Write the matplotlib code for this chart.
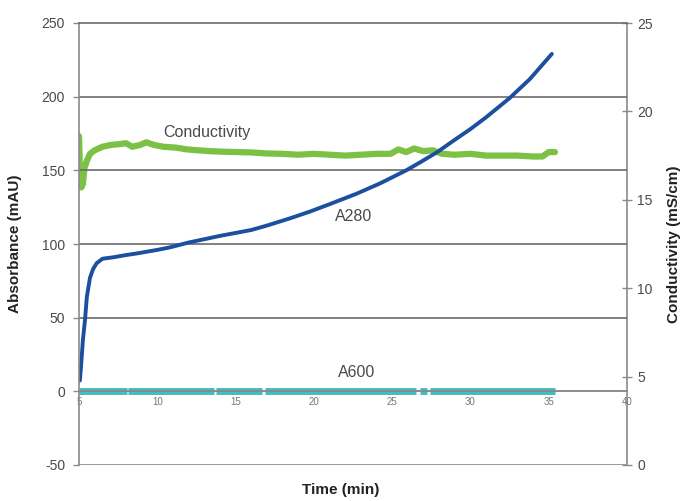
import numpy as np
import matplotlib
matplotlib.use("Agg")
import matplotlib.pyplot as plt

plt.rcParams["font.family"] = ["Liberation Sans Narrow", "Liberation Sans", "DejaVu Sans"]

# A280 absorbance (mAU) vs time (min)
a280_time = [5.0, 5.06, 5.15, 5.25, 5.38, 5.5, 5.7, 5.9, 6.13, 6.5, 7.2, 8.0, 8.7,
             10.0, 10.8, 12.0, 14.0, 16.0, 17.0, 18.5, 19.75, 21.0, 22.7, 24.2,
             25.9, 26.8, 27.9, 28.9, 30.0, 31.0, 32.5, 33.8, 35.2]
a280_value = [7, 7.5, 20, 35, 48, 64, 77, 83, 87, 90, 91, 92.5, 93.6,
              96, 97.7, 101, 105.5, 109.5, 112.5, 117.5, 122, 127, 134, 141,
              150, 155.5, 162.5, 170, 178, 186, 199, 212, 229]

# A600 absorbance (mAU), flat with small gaps in the trace
a600_time = [5.0, 8.05, np.nan, 8.15, 13.65, np.nan, 13.75, 16.7, np.nan, 16.85,
             26.5, np.nan, 26.75, 27.2, np.nan, 27.4, 35.4]
a600_value = [0, 0, np.nan, 0, 0, np.nan, 0, 0, np.nan, 0,
              0, np.nan, 0, 0, np.nan, 0, 0]

# Conductivity (mS/cm)
cond_time = [5.0, 5.05, 5.15, 5.25, 5.35, 5.5, 5.7, 6.0, 6.5, 7.0, 7.6, 8.0, 8.4,
             8.9, 9.3, 9.8, 10.4, 11.2, 11.9, 12.6, 13.4, 14.2, 15.1, 16.0, 17.0,
             18.0, 19.0, 20.0, 21.0, 22.0, 23.0, 24.0, 24.9, 25.4, 25.9, 26.4,
             27.0, 27.6, 28.2, 29.0, 30.0, 31.0, 32.0, 33.0, 34.0, 34.6, 35.0, 35.4]
cond_value = [18.6, 17.0, 15.7, 15.9, 16.8, 17.2, 17.6, 17.8, 18.0, 18.1, 18.15,
              18.2, 18.0, 18.1, 18.25, 18.1, 18.0, 17.95, 17.85, 17.8, 17.75, 17.72,
              17.7, 17.68, 17.62, 17.6, 17.55, 17.6, 17.55, 17.5, 17.55, 17.6, 17.6,
              17.85, 17.7, 17.9, 17.75, 17.8, 17.6, 17.55, 17.6, 17.5, 17.5, 17.5,
              17.45, 17.45, 17.7, 17.7]

x_ticks = [5, 10, 15, 20, 25, 30, 35, 40]
abs_ticks = [-50, 0, 50, 100, 150, 200, 250]
cond_ticks = [0, 5, 10, 15, 20, 25]

BLUE = "#1c4f9f"
GREEN = "#7bc144"
CYAN = "#3fbfc2"
GRID = "#6b6b6b"
TEXT = "#4a4a4a"

fig = plt.figure(figsize=(6.91, 5.01), dpi=100)
ax = fig.add_axes([79 / 691, 36 / 501, 548 / 691, 442 / 501])
ax2 = ax.twinx()
ax.set_zorder(ax2.get_zorder() + 1)
ax.patch.set_visible(False)

ax.set_xlim(5, 40)
ax.set_ylim(-50, 250)
ax2.set_ylim(0, 25)

for y in [50, 100, 150, 200]:
    ax.axhline(y, color=GRID, lw=1.2, zorder=0)
ax.axhline(-50, color="#9a9a9a", lw=1.4, zorder=0)

ax2.plot(cond_time, cond_value, color=GREEN, lw=4.5, solid_capstyle="round",
         solid_joinstyle="round")
ax.plot(a600_time, a600_value, color=CYAN, lw=5, solid_capstyle="butt")
ax.plot(a280_time, a280_value, color=BLUE, lw=2.8, solid_capstyle="round",
        solid_joinstyle="round")

# spines
for a in (ax, ax2):
    for s in a.spines.values():
        s.set_visible(False)
ax.spines["left"].set_visible(True)
ax.spines["left"].set_color("#8a8a8a")
ax.spines["left"].set_linewidth(1.2)
ax.spines["bottom"].set_visible(True)
ax.spines["bottom"].set_position(("data", 0))
ax.spines["bottom"].set_color("#8a8a8a")
ax.spines["bottom"].set_linewidth(1.4)
ax.spines["top"].set_visible(True)
ax.spines["top"].set_color(GRID)
ax.spines["top"].set_linewidth(1.2)
ax2.spines["right"].set_visible(True)
ax2.spines["right"].set_color("#8a8a8a")
ax2.spines["right"].set_linewidth(1.2)

ax.set_xticks(x_ticks)
ax.set_xticklabels([str(t) for t in x_ticks], fontsize=7, color="#777777")
ax.tick_params(axis="x", length=0, pad=4)
ax.set_yticks(abs_ticks)
ax.set_yticklabels([str(t) for t in abs_ticks], fontsize=10, color=TEXT)
ax.tick_params(axis="y", length=4, width=1, color="#8a8a8a", pad=6)
ax2.set_yticks(cond_ticks)
ax2.set_yticklabels([str(t) for t in cond_ticks], fontsize=10, color=TEXT)
ax2.tick_params(axis="y", direction="inout", length=7, width=1, color="#8a8a8a", pad=4)

ax.set_ylabel("Absorbance (mAU)", fontsize=11, fontweight="bold", color="#222222",
              labelpad=14)
ax2.set_ylabel("Conductivity (mS/cm)", fontsize=11, fontweight="bold",
               color="#222222", labelpad=10)
ax.set_xlabel("Time (min)", fontsize=11, fontweight="bold", color="#222222")
ax.xaxis.set_label_coords(0.478, -0.04)

ax.text(13.15, 175.4, "Conductivity", fontsize=11.5, color=TEXT, ha="center", va="center")
ax.text(22.56, 119, "A280", fontsize=11.5, color=TEXT, ha="center", va="center")
ax.text(22.7, 12.5, "A600", fontsize=11.5, color=TEXT, ha="center", va="center")

fig.savefig("out.png", dpi=100)
